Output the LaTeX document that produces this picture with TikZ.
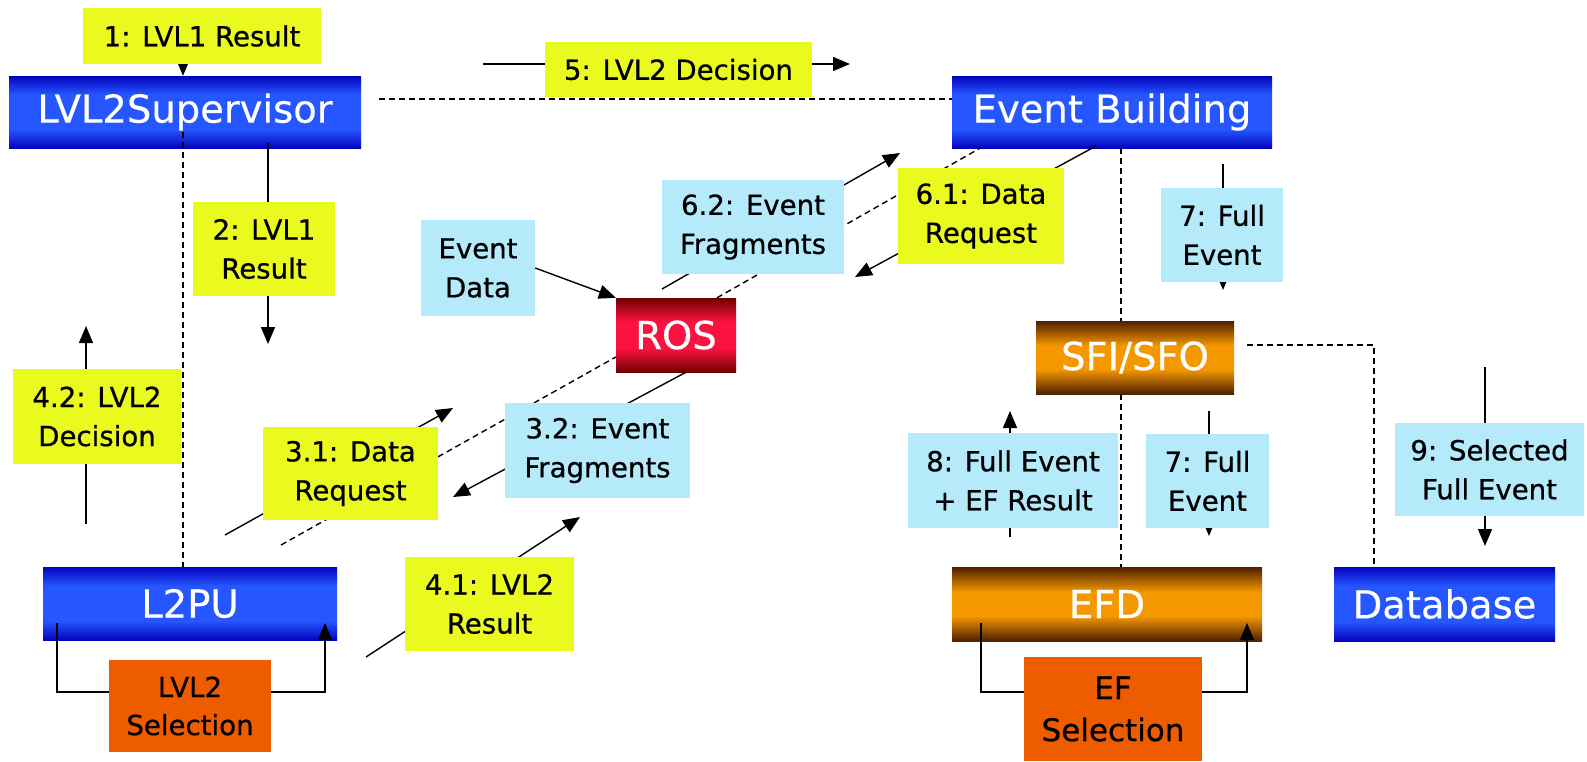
\documentclass[tikz,border=0pt]{standalone}
\usepackage{fontspec}
\setmainfont{DejaVu Sans}
\newfontfamily\lblfont[FakeBold=0.7]{DejaVu Sans}
\newfontfamily\compfont[FakeBold=0.4]{DejaVu Sans}
\usetikzlibrary{arrows.meta,calc}

\definecolor{lblyellow}{RGB}{235,250,30}
\definecolor{lblblue}{RGB}{180,234,250}
\definecolor{selorange}{RGB}{238,92,0}
\definecolor{blueedge}{RGB}{4,4,190}
\definecolor{bluemid}{RGB}{38,86,255}
\definecolor{brownedge}{RGB}{80,32,0}
\definecolor{brownmid}{RGB}{245,152,0}
\definecolor{rededge}{RGB}{110,0,0}
\definecolor{redmid}{RGB}{252,18,64}

% band shadings: dark top and bottom edges, bright middle
\pgfdeclareverticalshading{shblue}{100bp}{color(0bp)=(blueedge); color(25bp)=(blueedge); color(38bp)=(bluemid); color(62bp)=(bluemid); color(75bp)=(blueedge); color(100bp)=(blueedge)}
\pgfdeclareverticalshading{shbrown}{100bp}{color(0bp)=(brownedge); color(25bp)=(brownedge); color(42bp)=(brownmid); color(58bp)=(brownmid); color(75bp)=(brownedge); color(100bp)=(brownedge)}
\pgfdeclareverticalshading{shred}{100bp}{color(0bp)=(rededge); color(25bp)=(rededge); color(41bp)=(redmid); color(59bp)=(redmid); color(75bp)=(rededge); color(100bp)=(rededge)}

\tikzset{
  comp/.style={rectangle, inner sep=0pt, text=white, font=\compfont\fontsize{38.5}{46}\selectfont},
  bluecomp/.style={comp, shading=shblue},
  browncomp/.style={comp, shading=shbrown},
  redcomp/.style={comp, shading=shred},
  selbox/.style={rectangle, inner sep=0pt, fill=selorange, text=black, align=center},
  lbl/.style={rectangle, inner sep=0pt, text=black, align=center, font=\lblfont\fontsize{27.6}{39}\selectfont},
  ylbl/.style={lbl, fill=lblyellow},
  blbl/.style={lbl, fill=lblblue},
  wire/.style={line width=1.4pt},
  msg/.style={wire, -{Triangle[length=17pt,width=14pt]}},
  conn/.style={wire, dash pattern=on 6pt off 4pt},
}

\begin{document}
\begin{tikzpicture}[x=1pt,y=-1pt]
\useasboundingbox (0,0) rectangle (1587,761);
\fill[white] (0,0) rectangle (1587,761);

% ---------- components ----------
\node[bluecomp, minimum width=352, minimum height=72] (sup) at (185,112) {LVL2Supervisor};
\node[bluecomp, minimum width=320, minimum height=72] (eb) at (1112,112) {Event Building};
\node[bluecomp, minimum width=294, minimum height=73] (l2pu) at (190,603.5) {L2PU};
\node[redcomp, minimum width=120, minimum height=74] (ros) at (676,335) {ROS};
\node[browncomp, minimum width=198, minimum height=73] (sfi) at (1135,357.5) {SFI/SFO};
\node[browncomp, minimum width=310, minimum height=74] (efd) at (1107,604) {EFD};
\node[bluecomp, minimum width=221, minimum height=74] (db) at (1444.5,604) {Database};
\node[selbox, minimum width=162, minimum height=92, font=\lblfont\fontsize{27.6}{38}\selectfont] (l2sel) at (190,706) {LVL2\\Selection};
\node[selbox, minimum width=178, minimum height=104, font=\lblfont\fontsize{31}{42}\selectfont] (efsel) at (1113,709) {EF\\Selection};

% ---------- free ends of the connectors ----------
\coordinate (a1s) at (183,36);
\coordinate (a5s) at (483,64);   \coordinate (a5e) at (850,64);
\coordinate (c1) at (379,99);
\coordinate (c2) at (183,132);
\coordinate (a2s) at (268,143);  \coordinate (a2e) at (268,344);
\coordinate (a42s) at (86,524);  \coordinate (a42e) at (86,326);
\coordinate (lpy) at (0,692);
\coordinate (lpa) at (57,623);   \coordinate (lpb) at (325,623);
\coordinate (epa) at (981,623);  \coordinate (epb) at (1247,623);
\coordinate (c3) at (1121,148);
\coordinate (c4) at (1247,345);
\coordinate (a7s) at (1223,164); \coordinate (a7e) at (1223,290);
\coordinate (a7bs) at (1209,411); \coordinate (a7be) at (1209,536);
\coordinate (a8s) at (1010,537); \coordinate (a8e) at (1010,411);
\coordinate (a9s) at (1485,367); \coordinate (a9e) at (1485,546);
\coordinate (a62s) at (662,289); \coordinate (a62e) at (900,153);
\coordinate (a61s) at (1096,146); \coordinate (a61e) at (855,277);
\coordinate (c5) at (281,545);
\coordinate (a31s) at (225,535); \coordinate (a31e) at (453,408);
\coordinate (a32e) at (453,497);
\coordinate (a41s) at (366,657); \coordinate (a41e) at (580,517);

% ---------- control connections (dashed) ----------
\draw[conn] (c1) -- (c1 -| eb.west);
\draw[conn] (c2) -- (c2 |- l2pu.north);
\draw[conn] (c3) -- (c3 |- sfi.north);
\draw[conn] (c3 |- sfi.south) -- (c3 |- efd.north);
\draw[conn] (c4) -| ([xshift=-70.5pt]db.north);
\draw[conn] ([xshift=41pt]ros.north) -- ([xshift=-132pt]eb.south);
\draw[conn] (c5) -- ([yshift=-22pt]ros.west);

% ---------- message flow ----------
\draw[msg] (a1s) -- (a1s |- sup.north);
\draw[msg] (a5s) -- (a5e);
\draw[msg] (a2s) -- (a2e);
\draw[msg] (a42s) -- (a42e);
\draw[wire] (lpa) |- (l2sel.west |- lpy);
\draw[msg] (l2sel.east |- lpy) -| (lpb);
\draw[wire] (epa) |- (efsel.west |- lpy);
\draw[msg] (efsel.east |- lpy) -| (epb);
\draw[msg] (a7s) -- (a7e);
\draw[msg] (a7bs) -- (a7be);
\draw[msg] (a8s) -- (a8e);
\draw[msg] (a9s) -- (a9e);
\draw[msg] (a62s) -- (a62e);
\draw[msg] (a61s) -- (a61e);
\draw[msg] (a31s) -- (a31e);
\draw[msg] ([xshift=10pt]ros.south) -- (a32e);
\draw[msg] (a41s) -- (a41e);

% ---------- message labels ----------
\node[ylbl, minimum width=238, minimum height=56] (m1) at (202,36) {1: LVL1 Result};
\node[ylbl, minimum width=267, minimum height=55] (m5) at (678.5,69.5) {5: LVL2 Decision};
\node[ylbl, minimum width=142, minimum height=94] (m2) at (264,249) {2: LVL1\\Result};
\node[ylbl, minimum width=168, minimum height=95] (m42) at (97,416.5) {4.2: LVL2\\Decision};
\node[blbl, minimum width=114, minimum height=96] (evd) at (478,268) {Event\\Data};
\node[blbl, minimum width=182, minimum height=94] (m62) at (753,227) {6.2: Event\\Fragments};
\node[ylbl, minimum width=166, minimum height=96] (m61) at (981,216) {6.1: Data\\Request};
\node[ylbl, minimum width=175, minimum height=93] (m31) at (350.5,473.5) {3.1: Data\\Request};
\node[blbl, minimum width=185, minimum height=95] (m32) at (597.5,450.5) {3.2: Event\\Fragments};
\node[ylbl, minimum width=169, minimum height=94] (m41) at (489.5,604) {4.1: LVL2\\Result};
\node[blbl, minimum width=122, minimum height=94] (m7a) at (1222,235) {7: Full\\Event};
\node[blbl, minimum width=210, minimum height=95] (m8) at (1013,480.5) {8: Full Event\\+ EF Result};
\node[blbl, minimum width=123, minimum height=94] (m7b) at (1207.5,481) {7: Full\\Event};
\node[blbl, minimum width=189, minimum height=93] (m9) at (1489.5,469.5) {9: Selected\\Full Event};

% raw event data into the ROS
\draw[msg] (evd.east) -- (ros.north west);
\end{tikzpicture}
\end{document}
